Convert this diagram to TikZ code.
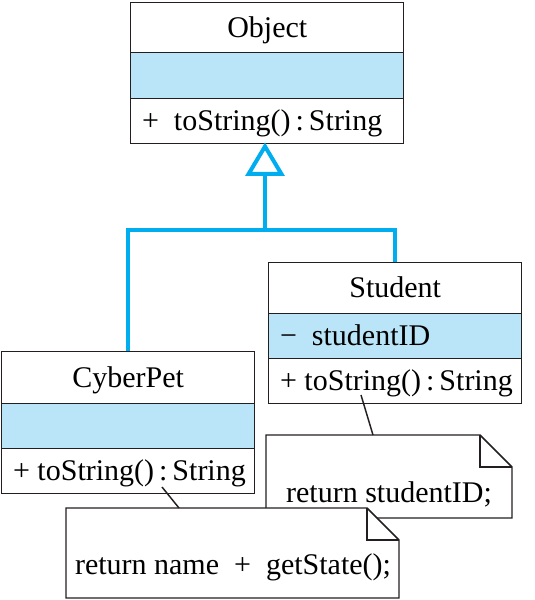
\documentclass[tikz,border=0pt]{standalone}
\usepackage{fontspec}
\setmainfont{Liberation Serif}
\usetikzlibrary{arrows.meta}
\definecolor{umlblue}{RGB}{0,174,239}
\definecolor{umlfill}{RGB}{186,228,247}
\definecolor{ink}{RGB}{35,31,32}
\tikzset{
  part/.style={draw=ink, line width=1.1pt, anchor=north west, inner sep=0pt, text height=14.6pt, text depth=0pt, font=\fontsize{22.5}{27}\selectfont},
  title/.style={part, align=center},
  attr/.style={part, fill=umlfill},
  meth/.style={part},
  inh/.style={draw=umlblue, line width=3pt},
  notebox/.style={draw=ink, line width=1.1pt, fill=white, line join=miter},
  notetext/.style={anchor=base, inner sep=0pt, font=\fontsize{22.5}{27}\selectfont},
  notelink/.style={draw=ink, line width=1.1pt}
}
\newcommand{\lft}[2]{\makebox[#1][l]{\hspace{8.5pt}#2}}
\begin{document}
\begin{tikzpicture}[x=0.75pt, y=-0.75pt]
\useasboundingbox (0,0) rectangle (535,600);
% Object
\node[title, minimum width=204.75pt, minimum height=37.5pt] (objT) at (130,2) {Object};
\node[attr, minimum width=204.75pt, minimum height=34.5pt] (objA) at (130,52) {};
\node[meth, minimum width=204.75pt, minimum height=33.75pt] (objM) at (130,98) {\lft{204.75pt}{+\enspace toString()\,:\,String}};
% Student
\node[title, minimum width=189.75pt, minimum height=38.25pt] (stuT) at (268,262) {Student};
\node[attr, minimum width=189.75pt, minimum height=33.75pt] (stuA) at (268,313) {\lft{189.75pt}{\textminus\enspace studentID}};
\node[meth, minimum width=189.75pt, minimum height=33.75pt] (stuM) at (268,358) {\lft{189.75pt}{+\ toString()\,:\,String}};
% CyberPet
\node[title, minimum width=189.75pt, minimum height=39pt] (cybT) at (1,351) {CyberPet};
\node[attr, minimum width=189.75pt, minimum height=33.75pt] (cybA) at (1,403) {};
\node[meth, minimum width=189.75pt, minimum height=33.75pt] (cybM) at (1,448) {\lft{189.75pt}{+\ toString()\,:\,String}};
% inheritance
\coordinate (junc) at (265,230);
\draw[inh] (cybT.north) |- (junc) -| (stuT.north);
\draw[inh, shorten >=-1.5pt, -{Triangle[open, width=29pt, length=25pt, line width=3pt]}] (junc) -- (junc |- objM.south);
% Student note
\path[notebox] (266,435) -- (480,435) -- (512,467) -- (512,518) -- (266,518) -- cycle;
\draw[notebox, fill=none] (480,435) -- (480,467) -- (512,467);
\node[notetext] (stuNote) at (389,502) {return studentID;};
\coordinate (stuFrom) at (361,395);
\coordinate (stuTo) at (373,435);
\draw[notelink] (stuFrom) -- (stuTo);
% CyberPet note
\path[notebox] (66,508) -- (367,508) -- (399,540) -- (399,598) -- (66,598) -- cycle;
\draw[notebox, fill=none] (367,508) -- (367,540) -- (399,540);
\node[notetext] (cybNote) at (233,574) {return name\enspace+\enspace getState();};
\coordinate (cybFrom) at (162,487);
\coordinate (cybTo) at (179,508);
\draw[notelink] (cybFrom) -- (cybTo);
\end{tikzpicture}
\end{document}
